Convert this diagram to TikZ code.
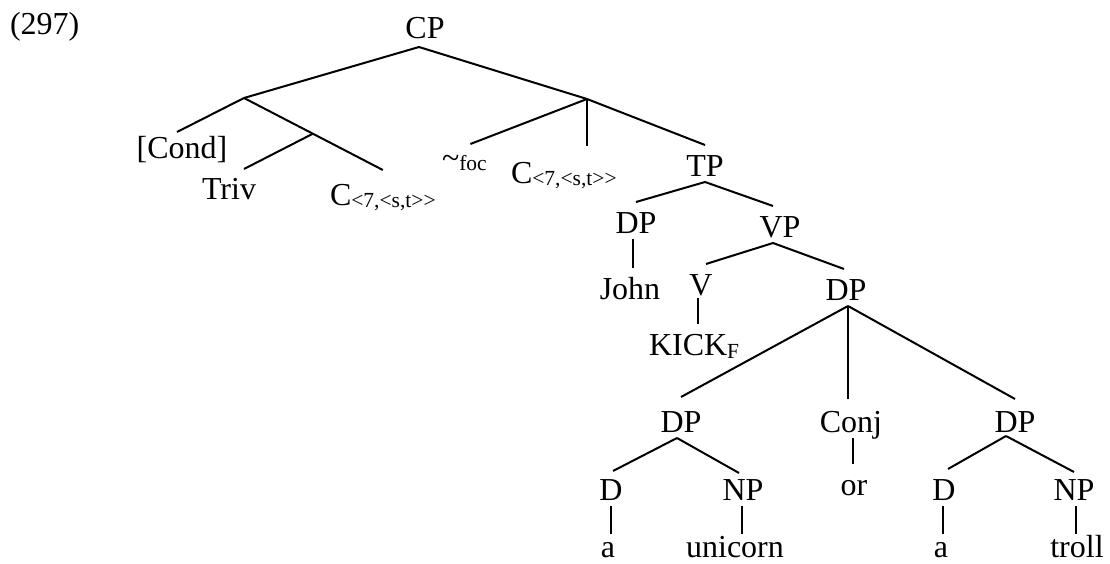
\documentclass[tikz,border=0pt]{standalone}
\usepackage{fontspec}
\setmainfont{Liberation Serif}
\usetikzlibrary{calc}
\newcommand{\lsub}[2][2pt]{\raisebox{-#1}{\fontsize{21.5}{22}\selectfont #2}}
\begin{document}
\begin{tikzpicture}[x=1pt,y=-1pt,line width=2pt,
  lab/.style={inner sep=0pt,text height=30pt,text depth=5pt,font=\fontsize{32}{38}\selectfont},
  leaf/.style={lab,text height=22pt}]
\useasboundingbox (0,0) rectangle (1110,564);
% labels
\node[lab,anchor=base west] (num) at (9,35) {(297)};
\node[lab,anchor=base] (cp) at (425,39) {CP};
\coordinate (jL) at (244,98);
\coordinate (jR) at (587,99);
\node[lab,anchor=base] (cond) at (182,159) {[Cond]};
\node[lab,anchor=base] (triv) at (229,200) {Triv};
\node[lab,anchor=base west] (cl) at (329,205) {C\lsub{<7,<s,t>{}>}};
\node[lab,anchor=base west] (foc) at (441,168) {\textasciitilde\lsub{foc}};
\node[lab,anchor=base west] (cm) at (510,183) {C\lsub{<7,<s,t>{}>}};
\node[lab,anchor=base] (tp) at (705,176) {TP};
\node[lab,anchor=base] (dpj) at (636,233) {DP};
\node[lab,anchor=base] (vp) at (780,237) {VP};
\node[lab,anchor=base] (john) at (630,299) {John};
\node[lab,anchor=base] (v) at (701,295) {V};
\node[lab,anchor=base west] (kick) at (648,355) {KICK\lsub[3pt]{F}};
\node[lab,anchor=base] (dpb) at (846,300) {DP};
\node[lab,anchor=base] (dp1) at (681,432) {DP};
\node[lab,anchor=base] (conj) at (851,432) {Conj};
\node[lab,anchor=base] (dp2) at (1015,432) {DP};
\node[lab,anchor=base] (d1) at (611,500) {D};
\node[lab,anchor=base] (np1) at (743,500) {NP};
\node[lab,anchor=base] (or) at (854,495) {or};
\node[lab,anchor=base] (d2) at (944,500) {D};
\node[lab,anchor=base] (np2) at (1074,500) {NP};
\node[leaf,anchor=base] (a1) at (608,557) {a};
\node[leaf,anchor=base] (uni) at (735,557) {unicorn};
\node[leaf,anchor=base] (a2) at (941,557) {a};
\node[leaf,anchor=base] (troll) at (1077,557) {troll};
% connectors
\coordinate (cpb) at ([xshift=-6pt,yshift=-2pt]cp.south);
\draw (cpb) -- (jL);
\draw (cpb) -- (jR);
\draw (jL) -- ([xshift=-5pt,yshift=-4pt]cond.north);
\coordinate (clt) at ([yshift=4pt]cl.north);
\coordinate (jL2) at ($(jL)!0.496!(clt)$);
\draw (jL) -- (clt);
\draw (jL2) -- ([xshift=15pt]triv.north);
\draw (jR) -- ([xshift=6pt,yshift=-7pt]foc.north);
\coordinate (cmt) at ([yshift=6pt]cm.north);
\draw (jR) -- (jR |- cmt);
\draw (jR) -- (tp.north);
\draw (tp.south) -- (dpj.north);
\draw (tp.south) -- ([xshift=-7pt]vp.north);
\coordinate (dpjb) at ([xshift=-3pt]dpj.south);
\draw (dpjb) -- (dpjb |- john.north);
\coordinate (vpb) at ([xshift=-7pt]vp.south);
\draw (vpb) -- ([xshift=5pt]v.north);
\draw (vpb) -- ([xshift=-2pt]dpb.north);
\coordinate (vb) at ([xshift=-3pt,yshift=3pt]v.south);
\draw (vb) -- (vb |- kick.north);
\coordinate (dpbb) at ([xshift=2pt]dpb.south);
\draw (dpbb) -- ([yshift=4pt]dp1.north);
\coordinate (conjt) at ([yshift=2pt]conj.north);
\draw (dpbb) -- (dpbb |- conjt);
\draw (dpbb) -- ([yshift=2pt]dp2.north);
\coordinate (dp1b) at ([xshift=-4pt]dp1.south);
\draw (dp1b) -- ([xshift=2pt,yshift=-2pt]d1.north);
\draw (dp1b) -- ([xshift=-4pt,yshift=-4pt]np1.north);
\draw (d1.south) -- (d1.south |- a1.north);
\coordinate (np1b) at ([xshift=-1pt]np1.south);
\draw (np1b) -- (np1b |- uni.north);
\coordinate (conjb) at ([xshift=2pt]conj.south);
\draw (conjb) -- (conjb |- or.north);
\coordinate (dp2b) at ([xshift=-9pt,yshift=2pt]dp2.south);
\draw (dp2b) -- ([xshift=4pt]d2.north);
\draw (dp2b) -- ([yshift=-3pt]np2.north);
\coordinate (d2b) at ([xshift=-1pt]d2.south);
\draw (d2b) -- (d2b |- a2.north);
\coordinate (np2b) at ([xshift=2pt]np2.south);
\draw (np2b) -- (np2b |- troll.north);
\end{tikzpicture}
\end{document}
